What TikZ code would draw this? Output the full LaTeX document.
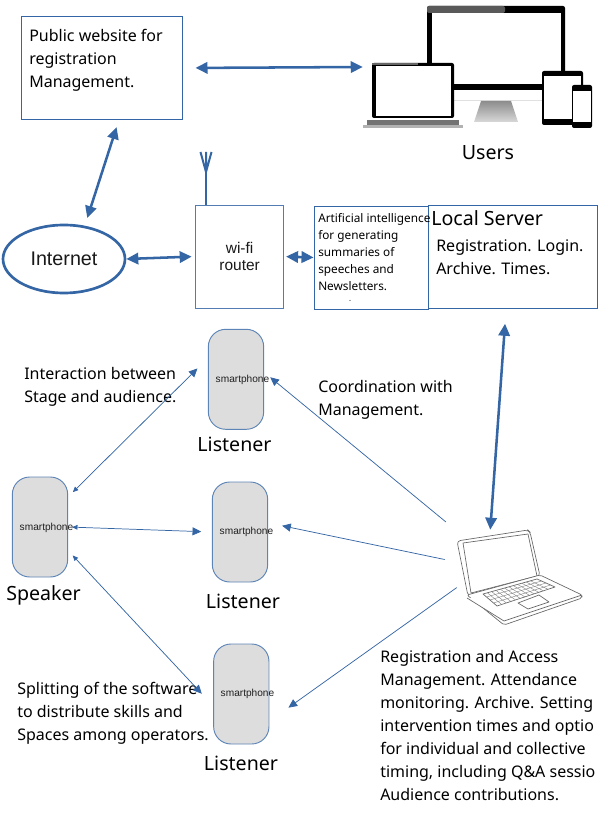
\documentclass[tikz,border=0pt]{standalone}
\usepackage{fontspec}
\setmainfont{Noto Sans}
\newfontfamily\arialfont{Liberation Sans}
\usetikzlibrary{arrows.meta, calc, shapes.geometric}
\definecolor{flowblue}{HTML}{3465A4}
\definecolor{phonegray}{HTML}{DDDDDD}
\tikzset{
    box/.style={rectangle, draw=flowblue, line width=0.7pt, inner sep=0pt, minimum height=77.25pt},
    bodytext/.style={anchor=north west, inner sep=0pt, align=left, font=\fontsize{12}{17.25}\selectfont},
    aitext/.style={anchor=north west, inner sep=0pt, align=left, font=\fontsize{8.85}{12.75}\selectfont},
    bigtext/.style={inner sep=0pt, font=\fontsize{14.7}{17}\selectfont},
    phone/.style={rectangle, rounded corners=13pt, draw=flowblue!80, line width=0.7pt, fill=phonegray, minimum width=41.5pt, minimum height=75pt},
    phonetext/.style={inner sep=0pt, text=black!88, font=\arialfont\fontsize{7.6}{9}\selectfont},
    zone/.style={rectangle, inner sep=0pt},
    smalltip/.tip={Triangle[length=4pt,width=3.5pt]},
    bigtip/.tip={Triangle[length=6.5pt,width=6pt]},
    fattip/.tip={Triangle[length=9pt,width=8.5pt]},
    flow/.style={fattip-fattip, draw=flowblue, line width=1.9pt},
    link/.style={draw=flowblue, line width=0.55pt},
    device/.style={black, rounded corners=1.5pt},
    sketch/.style={draw=black!60, line width=0.5pt, fill=white, line join=round}
}
\begin{document}
\begin{tikzpicture}[x=0.75pt, y=-0.75pt]
    \useasboundingbox (0,0) rectangle (597,837);

    % Entities
    \node (web) [box, minimum width=120.75pt] at (102,68) {};
    \node (webtext) [bodytext] at (29,28.5) {Public website for\\registration\\Management.};
    \node (internet) [ellipse, draw=flowblue, line width=2pt, minimum width=91.5pt, minimum height=51pt, inner sep=0pt, font=\arialfont\fontsize{14.8}{17}\selectfont, text=black!90] at (64,259) {Internet};
    \node (router) [box, draw=flowblue!85, minimum width=66pt, align=center, font=\arialfont\fontsize{11.6}{12.4}\selectfont, text=black!90] at (239.6,256.5) {wi-fi\\router};
    \node (ai) [box, minimum width=85.5pt] at (371,257.5) {};
    \node (server) [box, minimum width=126.75pt] at (512.5,256.5) {};
    \node (aitext) [aitext] at (318,213) {Artificial intelligence\\for generating\\summaries of\\speeches and\\Newsletters.};
    \node (servertitle) [bigtext, anchor=west] at (431,218) {Local Server};
    \node (servertext) [bodytext] at (436,239.5) {Registration. Login.\\Archive. Times.};

    % Antenna
    \node (antenna) [inner sep=0pt, minimum size=0pt] at (206,172) {};
    \draw[flowblue, line width=1.7pt] (antenna.center) -- (router.north -| antenna.center);
    \draw[flowblue, line width=1.5pt] (200.5,152) -- (antenna.center) -- (211.5,152) (antenna.center) -- (206,152);

    % Devices
    \node (devices) [zone, minimum width=171.75pt, minimum height=91.5pt] at (477.5,67) {};
    \fill[device] (427,6) rectangle (565,90);
    \fill[black!65, rounded corners=1.5pt] (427,6) rectangle (505,13);
    \fill[white] (432,13) rectangle (561,84);
    \fill[black!12] (454,90) rectangle (565,101);
    \fill[white] (454,90.5) rectangle (565,100.5);
    \shade[top color=black!45, bottom color=black!15] (481,101) -- (511,101) -- (518,122) -- (474,122) -- cycle;
    \fill[device] (372,63) rectangle (454,118);
    \fill[black!60] (372,63) rectangle (418,65.5);
    \fill[white] (376,66) rectangle (451,116);
    \fill[black!55] (367,120) rectangle (459,125);
    \fill[black!30] (363,125) rectangle (463,128);
    \fill[device] (542,71) rectangle (583,125);
    \fill[white] (544,76) rectangle (581,119);
    \fill[device] (572,85) rectangle (592,128);
    \fill[white] (573,91) rectangle (591,122);

    % Laptop
    \node (laptop) [zone, minimum width=93.75pt, minimum height=69.75pt] at (519.5,576.5) {};
    \draw[sketch, rounded corners=2.5pt] (457,541) -- (528,530) -- (530,532) -- (540,576) -- (468,596) -- cycle;
    \draw[sketch] (463,543) -- (528,534) -- (537,576) -- (471,593) -- cycle;
    \draw[sketch, rounded corners=1.5pt] (467,595) -- (504,625) -- (582,598) -- (582,595) -- (540,575) -- cycle;
    \draw[sketch] (467,598) -- (504,621) -- (582,595);
    \coordinate (keya) at (483,594);
    \coordinate (keyb) at (537,579);
    \coordinate (keyc) at (555,587);
    \coordinate (keyd) at (497,606);
    \draw[sketch] (keya) -- (keyb) -- (keyc) -- (keyd) -- cycle;
    \foreach \t in {0.08,0.16,...,0.95} {
        \draw[black!50, line width=0.3pt] ($(keya)!\t!(keyb)$) -- ($(keyd)!\t!(keyc)$);
    }
    \foreach \t in {0.25,0.5,0.75} {
        \draw[black!50, line width=0.3pt] ($(keya)!\t!(keyd)$) -- ($(keyb)!\t!(keyc)$);
    }
    \draw[sketch] (518,603) -- (539,595) -- (549,602) -- (528,609) -- cycle;

    % Phones
    \node (speaker) [phone] at (40,527) {};
    \node (listenerA) [phone] at (236,379.3) {};
    \node (listenerB) [phone] at (240,532) {};
    \node (listenerC) [phone] at (241.3,694) {};
    \node (speakertext) [phonetext] at (46.5,528) {smartphone};
    \node (listenerAtext) [phonetext] at (242.5,380) {smartphone};
    \node (listenerBtext) [phonetext] at (246.5,532) {smartphone};
    \node (listenerCtext) [phonetext] at (247.5,694) {smartphone};

    % Labels
    \node (users) [bigtext] at (488,153) {Users};
    \node (speakerlabel) [bigtext] at (43.5,595.5) {Speaker};
    \node (listenerAlabel) [bigtext] at (234.5,444) {Listener};
    \node (listenerBlabel) [bigtext] at (243,601) {Listener};
    \node (listenerClabel) [bigtext] at (241,763) {Listener};
    \node (interaction) [bodytext] at (24,367.5) {Interaction between\\Stage and audience.};
    \node (coordination) [bodytext] at (318,380.5) {Coordination with\\Management.};
    \node (splitting) [bodytext] at (17,681.5) {Splitting of the software\\to distribute skills and\\Spaces among operators.};
    \node (registration) [bodytext] at (380,650.5) {Registration and Access\\Management. Attendance\\monitoring. Archive. Setting\\intervention times and optio\\for individual and collective\\timing, including Q\&A sessio\\Audience contributions.};
    \fill[black!70] (350,300.5) circle (0.5pt);

    % Flows
    \draw[flow, shorten <=9.4pt] (web.east) -- (devices.west);
    \draw[flow, shorten <=5.6pt, shorten >=6pt] (web.-72) -- (internet.58);
    \draw[flow, shorten >=2.6pt] (internet.east) -- (router.west);
    \draw[flow, shorten <=1.5pt] (router.east) -- (ai.west);
    \draw[flow, shorten <=11.5pt] (server.263) -- (laptop.122);

    \draw[link, smalltip-bigtip, shorten <=3pt, shorten >=8pt] (speaker.east) -- (listenerB.west);
    \draw[link, smalltip-bigtip, shorten <=5pt, shorten >=11pt] (speaker.47) -- (listenerA.143);
    \draw[link, smalltip-bigtip, shorten <=5pt, shorten >=12.5pt] (speaker.-40) -- (listenerC.203.5);
    \draw[link, -bigtip, shorten <=10.6pt, shorten >=5.9pt] (laptop.144) -- (listenerA.14.6);
    \draw[link, -bigtip, shorten <=9.2pt, shorten >=10.7pt] (laptop.167.8) -- (listenerB.18.9);
    \draw[link, -bigtip, shorten >=17.5pt] (laptop.190.9) -- (listenerC.-44.8);
\end{tikzpicture}
\end{document}
